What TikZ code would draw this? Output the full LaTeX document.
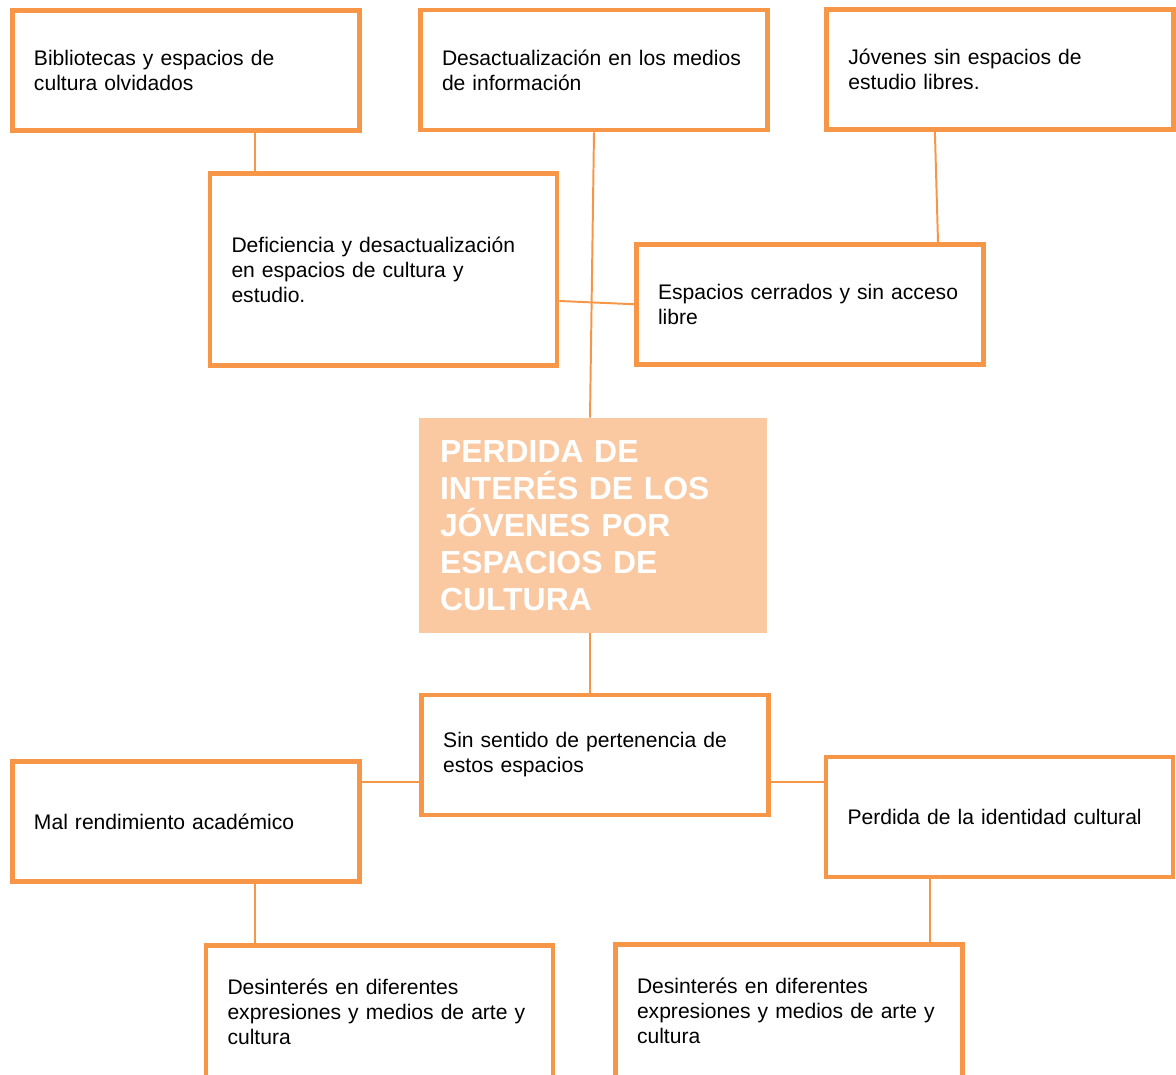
\documentclass[tikz,border=0pt]{standalone}
\usepackage{fontspec}
\setmainfont{Liberation Sans}
\usetikzlibrary{positioning}

\definecolor{naranja}{RGB}{247,150,70}
\definecolor{durazno}{RGB}{250,201,162}

\begin{document}
\begin{tikzpicture}[
  caja/.style={draw=naranja, line width=3.5pt, rectangle, align=left,
    text width=7.6cm, inner xsep=0.5375cm, minimum height=3cm,
    font=\fontsize{15}{17.8}\selectfont},
  nucleo/.style={fill=durazno, rectangle, align=left, text=white,
    text width=7.65cm, inner xsep=0.525cm, minimum height=5.375cm,
    font=\fontsize{22.7}{26.3}\selectfont\bfseries},
  enlace/.style={draw=naranja, line width=1.4pt}
]

\useasboundingbox (0,0) rectangle (29.4,-26.875);

% Causas
\node[caja] (bib) at (4.65,-1.756) {Bibliotecas y espacios de\\cultura olvidados};
\node[caja] (desact) at (14.85,-1.75) {Desactualización en los medios\\de información};
\node[caja] (jov) at (25.01,-1.74) {Jóvenes sin espacios de\\estudio libres.};
\node[caja, minimum height=4.8cm] (def) at (9.5875,-6.7375) {Deficiencia y desactualización\\en espacios de cultura y\\estudio.};
\node[caja] (esp) at (20.25,-7.606) {Espacios cerrados y sin acceso\\libre};

% Problema central
\node[nucleo] (central) at (14.825,-13.1375) {PERDIDA DE\\INTERÉS DE LOS\\JÓVENES POR\\ESPACIOS DE\\CULTURA};

% Efectos
\node[caja] (sin) at (14.88,-18.875) {Sin sentido de pertenencia de\\estos espacios};
\node[caja] (mal) at (4.65,-20.54) {Mal rendimiento académico};
\node[caja] (perd) at (24.9875,-20.425) {Perdida de la identidad cultural};
\node[caja, minimum height=3.325cm] (desL) at (9.4875,-25.3) {Desinterés en diferentes\\expresiones y medios de arte y\\cultura};
\node[caja, minimum height=3.325cm] (desR) at (19.725,-25.275) {Desinterés en diferentes\\expresiones y medios de arte y\\cultura};

% Conexiones arriba
\draw[enlace] ([xshift=1.725cm]bib.south) -- ([xshift=1.725cm]bib.south |- def.north);
\draw[enlace] (desact.south) -- ([xshift=-0.075cm]central.north);
\draw[enlace] ([xshift=-1.6375cm]jov.south) -- ([xshift=3.2cm]esp.north);
\draw[enlace] ([yshift=-0.7875cm]def.east) -- (esp.west);

% Conexiones abajo
\draw[enlace] ([xshift=-0.075cm]central.south) -- ([xshift=-0.075cm]central.south |- sin.north);
\draw[enlace] ([yshift=-0.675cm]sin.west) -- ([yshift=-0.675cm]sin.west -| mal.east);
\draw[enlace] ([yshift=-0.675cm]sin.east) -- ([yshift=-0.675cm]sin.east -| perd.west);
\draw[enlace] ([xshift=1.725cm]mal.south) -- ([xshift=1.725cm]mal.south |- desL.north);
\draw[enlace] ([xshift=-1.7375cm]perd.south) -- ([xshift=-1.7375cm]perd.south |- desR.north);

\end{tikzpicture}
\end{document}
